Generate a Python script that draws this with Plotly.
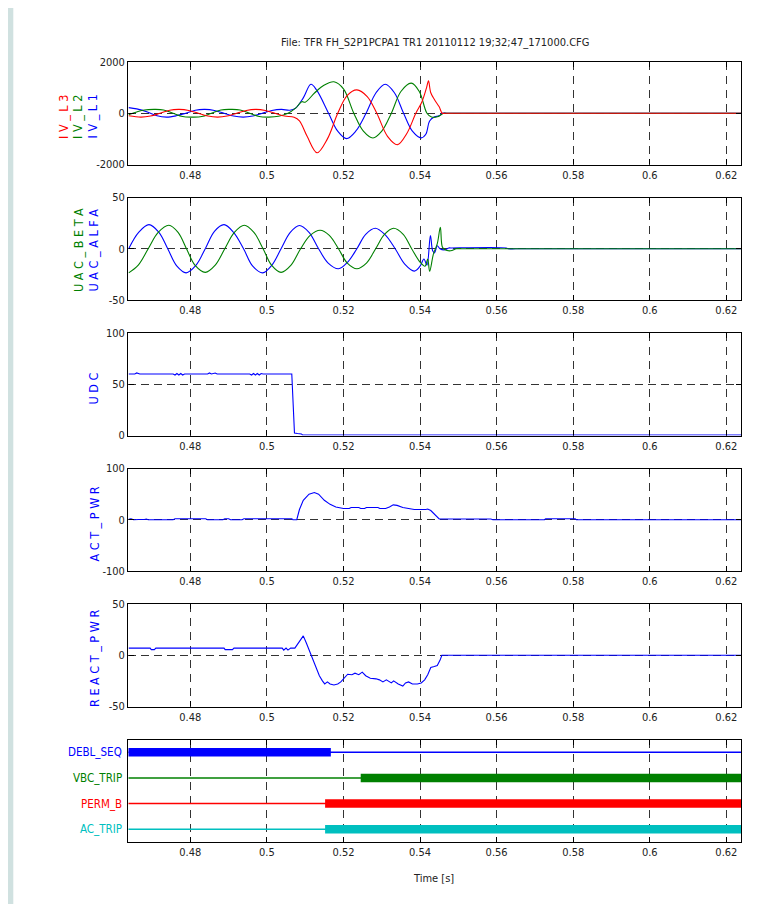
import plotly.graph_objects as go

# ---------------- data ----------------
T_START, T_END = 0.4638, 0.6239
X_TICKS = [0.48, 0.50, 0.52, 0.54, 0.56, 0.58, 0.60, 0.62]
X_TICK_TEXT = ["0.48", "0.5", "0.52", "0.54", "0.56", "0.58", "0.6", "0.62"]

# Panel 1: IV currents
iv_l1_t = [0.4639, 0.4660, 0.4688, 0.4713, 0.4738, 0.4763, 0.4788, 0.4813, 0.4838, 0.4863,
           0.4888, 0.4913, 0.4938, 0.4963, 0.4988, 0.5013, 0.5038, 0.5060, 0.5075, 0.5095,
           0.5115, 0.5130, 0.5161, 0.5185, 0.5208, 0.5232, 0.5259, 0.5285, 0.5309, 0.5333,
           0.5357, 0.5380, 0.5403, 0.5415, 0.5425, 0.5437, 0.5450, 0.5458, 0.5470, 0.5500,
           0.5600, 0.6239]
iv_l1_v = [220, 170, 50, -100, -150, -100, 0, 120, 150, 110,
           0, -110, -150, -110, 0, 110, 150, 120, 200, 600,
           1130, 900, 0, -700, -990, -700, 0, 800, 1130, 800,
           0, -700, -960, -820, -300, -150, -100, 0, 0, 0,
           0, 0]

iv_l2_t = [0.4639, 0.4660, 0.4680, 0.4705, 0.4730, 0.4755, 0.4780, 0.4805, 0.4830, 0.4855,
           0.4880, 0.4905, 0.4930, 0.4955, 0.4980, 0.5005, 0.5030, 0.5055, 0.5075, 0.5091,
           0.5100, 0.5125, 0.5150, 0.5175, 0.5200, 0.5227, 0.5252, 0.5277, 0.5300, 0.5325,
           0.5350, 0.5377, 0.5398, 0.5418, 0.5430, 0.5445, 0.5455, 0.5462, 0.5470, 0.5500,
           0.5600, 0.6239]
iv_l2_v = [-60, 50, 130, 150, 130, 0, -130, -150, -130, 0,
           130, 150, 130, 0, -130, -150, -120, 0, 200, 450,
           430, 800, 1100, 1226, 950, 0, -700, -964, -700, 0,
           850, 1174, 850, 0, -150, -140, -60, 0, 0, 0,
           0, 0]

iv_l3_t = [0.4639, 0.4671, 0.4696, 0.4721, 0.4746, 0.4771, 0.4796, 0.4821, 0.4846, 0.4871,
           0.4896, 0.4921, 0.4946, 0.4971, 0.4996, 0.5021, 0.5046, 0.5071, 0.5085, 0.5105,
           0.5131, 0.5158, 0.5185, 0.5210, 0.5235, 0.5262, 0.5287, 0.5315, 0.5341, 0.5365,
           0.5389, 0.5405, 0.5417, 0.5422, 0.5428, 0.5439, 0.5450, 0.5458, 0.5466, 0.5500,
           0.5600, 0.6239]
iv_l3_v = [-100, -150, -110, 0, 120, 150, 110, 0, -110, -150,
           -110, 0, 110, 150, 110, 0, -110, -160, -300, -900,
           -1540, -1000, 0, 700, 911, 650, 0, -900, -1226, -800,
           0, 450, 1000, 1265, 800, 500, 250, 0, 0, 0,
           0, 0]

# Panel 2: UAC alfa / beta
uac_alfa_t = [0.4639, 0.4665, 0.4692, 0.4718, 0.4741, 0.4765, 0.4789, 0.4815, 0.4839, 0.4863,
              0.4888, 0.4913, 0.4939, 0.4963, 0.4989, 0.5013, 0.5037, 0.5061, 0.5085, 0.5110,
              0.5135, 0.5160, 0.5187, 0.5211, 0.5235, 0.5258, 0.5283, 0.5308, 0.5335, 0.5360,
              0.5385, 0.5400, 0.5410, 0.5418, 0.5427, 0.5433, 0.5438, 0.5445, 0.5452, 0.5465,
              0.5475, 0.5480, 0.5625, 0.5630, 0.5650, 0.5800, 0.6239]
uac_alfa_v = [0, 16, 23.5, 16, 0, -17, -23.5, -16, 0, 17,
              23.5, 16, 0, -17, -23.5, -16, 0, 16, 22.7, 16,
              0, -14, -19.5, -13, 0, 14, 20, 14, 0, -15,
              -21.8, -17, -10, -16, 13, -2, -4, 3, 0, -1,
              0.8, 0.8, 0.8, 0, 0, 0, 0]

uac_beta_t = [0.4639, 0.4664, 0.4690, 0.4716, 0.4744, 0.4768, 0.4790, 0.4812, 0.4839, 0.4865,
              0.4890, 0.4915, 0.4941, 0.4966, 0.4990, 0.5012, 0.5037, 0.5063, 0.5088, 0.5113,
              0.5139, 0.5163, 0.5187, 0.5210, 0.5235, 0.5260, 0.5284, 0.5307, 0.5331, 0.5356,
              0.5378, 0.5400, 0.5413, 0.5420, 0.5425, 0.5435, 0.5445, 0.5453, 0.5458, 0.5465,
              0.5480, 0.5495, 0.5510, 0.5600, 0.6239]
uac_beta_v = [-23.5, -16, 0, 16, 23, 16, 0, -16, -23, -16,
              0, 16, 23, 16, 0, -16, -23, -16, 0, 13,
              18, 13, 0, -14, -19.5, -14, 0, 14, 20, 14,
              0, -13, -17, -10, -22, -5, 5, 21, 2, -1,
              -2, 0, 0, 0, 0]

# Panel 3: UDC
udc_t = [0.4639, 0.4655, 0.4660, 0.4668, 0.4755, 0.4760, 0.4765, 0.4770, 0.4775, 0.4780,
         0.4785, 0.4845, 0.4850, 0.4855, 0.4865, 0.4870, 0.4955, 0.4960, 0.4965, 0.4970,
         0.4975, 0.4980, 0.4985, 0.4990, 0.5065, 0.5068, 0.5072, 0.5080, 0.5090, 0.5093, 0.6239]
udc_v = [60, 60, 61, 60, 60, 59, 60.5, 59, 60.5, 59,
         60, 60, 61, 60, 61, 60, 60, 59, 60.5, 59,
         60.5, 59, 60.5, 60, 60, 30, 2.5, 2, 1.5, 0.5, 0.5]

# Panel 4: ACT_PWR
act_t = [0.4639, 0.4645, 0.4652, 0.4660, 0.4665, 0.4680, 0.4685, 0.4690, 0.4755, 0.4760,
         0.4840, 0.4845, 0.4885, 0.4890, 0.4900, 0.4905, 0.4935, 0.4940, 0.5065, 0.5068,
         0.5078, 0.5085, 0.5095, 0.5110, 0.5124, 0.5135, 0.5150, 0.5165, 0.5180, 0.5200,
         0.5215, 0.5220, 0.5240, 0.5245, 0.5255, 0.5260, 0.5290, 0.5295, 0.5310, 0.5320,
         0.5330, 0.5340, 0.5355, 0.5370, 0.5385, 0.5415, 0.5420, 0.5428, 0.5440, 0.5450,
         0.5585, 0.5590, 0.5725, 0.5728, 0.5805, 0.5808, 0.6239]
act_v = [1, 2, 0, 1, 0.5, 0.5, 1.5, 0, 0, 2,
         2, 0, 0, 2, 2, 0, 0, 2, 2, 0,
         0, 20, 38, 50, 53, 50, 38, 30, 25, 22,
         22, 24, 24, 22, 22, 24, 24, 22, 22, 25,
         29, 28, 24, 22, 20, 20, 21, 18, 8, 1.5,
         1.5, 0, 0, 2, 2, 0, 0]

# Panel 5: REACT_PWR
react_t = [0.4639, 0.4695, 0.4698, 0.4706, 0.4710, 0.4888, 0.4891, 0.4910, 0.4914, 0.5040,
           0.5044, 0.5050, 0.5055, 0.5062, 0.5073, 0.5085, 0.5095, 0.5103, 0.5115, 0.5125,
           0.5137, 0.5145, 0.5151, 0.5158, 0.5165, 0.5175, 0.5185, 0.5193, 0.5203, 0.5211,
           0.5222, 0.5230, 0.5240, 0.5249, 0.5258, 0.5270, 0.5285, 0.5294, 0.5303, 0.5312,
           0.5325, 0.5331, 0.5343, 0.5355, 0.5362, 0.5370, 0.5380, 0.5393, 0.5403, 0.5412,
           0.5420, 0.5428, 0.5437, 0.5445, 0.5452, 0.5457, 0.6239]
react_v = [7, 7, 5.5, 5.5, 7, 7, 5.5, 5.5, 7, 7,
           5, 7, 5, 7, 7, 13, 18.9, 12, 0, -10,
           -20, -25, -28, -26, -28, -29, -28, -26, -22, -18.5,
           -19, -17.5, -19, -16.5, -20, -22.5, -23, -24, -26, -24,
           -27, -25, -28, -30, -27, -26, -28, -28, -27, -24,
           -19, -12, -11, -10, -5, 0, 0]

# Panel 6: digital signals
DIG_NAMES = ["DEBL_SEQ", "VBC_TRIP", "PERM_B", "AC_TRIP"]
DIG_ROWS = [1, 2, 3, 4]
DIG_ON_START = [0.4638, 0.5245, 0.5152, 0.5152]
DIG_ON_END = [0.5167, 0.6239, 0.6239, 0.6239]

# ---------------- style ----------------
BLUE, GREEN, RED, CYAN = "#0000ff", "#008000", "#ff0000", "#00bfbf"
DIG_COLORS = [BLUE, GREEN, RED, CYAN]
FONT = "DejaVu Sans Condensed, Liberation Sans Narrow, sans-serif"
FS = 11
OFF = 8                      # page offset of the plot div
W, H = 770 - OFF, 904 - OFF  # figure size so it fits the window
X_L, X_R = 128.3, 741.3      # target window pixel positions
PANEL_TOP0, PANEL_STEP, PANEL_H = 62, 135.5, 102.5


def px(x):
    return (x - OFF) / W


def py(y):
    return 1 - (y - OFF) / H


Y_RANGES = [(-2000, 2000), (-50, 50), (0, 100), (-100, 100), (-50, 50), (4.5, 0.5)]
Y_TICKS = [[-2000, 0, 2000], [-50, 0, 50], [0, 50, 100], [-100, 0, 100], [-50, 0, 50], []]

fig = go.Figure()


def add(t, v, color, k, shape="linear", width=1.1):
    fig.add_trace(go.Scatter(x=t, y=v, mode="lines",
                             line=dict(color=color, width=width, shape=shape),
                             xaxis="x" if k == 0 else f"x{k+1}",
                             yaxis="y" if k == 0 else f"y{k+1}",
                             showlegend=False, hoverinfo="skip"))


add(iv_l1_t, iv_l1_v, BLUE, 0, "spline")
add(iv_l2_t, iv_l2_v, GREEN, 0, "spline")
add(iv_l3_t, iv_l3_v, RED, 0, "spline")
add(uac_alfa_t, uac_alfa_v, BLUE, 1, "spline")
add(uac_beta_t, uac_beta_v, GREEN, 1, "spline")
add(udc_t, udc_v, BLUE, 2)
add(act_t, act_v, BLUE, 3)
add(react_t, react_v, BLUE, 4)
for name, row, s, e, c in zip(DIG_NAMES, DIG_ROWS, DIG_ON_START, DIG_ON_END, DIG_COLORS):
    add([T_START, T_END], [row, row], c, 5, width=1.6)
    add([s, e], [row, row], c, 5, width=8.5)

layout = dict(width=W, height=H, autosize=False,
              margin=dict(l=0, r=0, t=0, b=0, pad=0, autoexpand=False),
              paper_bgcolor="#d0e1e0", plot_bgcolor="white",
              font=dict(family=FONT, size=FS, color="#222"),
              showlegend=False)

for k in range(6):
    top = PANEL_TOP0 + PANEL_STEP * k
    bot = top + PANEL_H
    xa = "xaxis" if k == 0 else f"xaxis{k+1}"
    ya = "yaxis" if k == 0 else f"yaxis{k+1}"
    yname = "y" if k == 0 else f"y{k+1}"
    xname = "x" if k == 0 else f"x{k+1}"
    layout[xa] = dict(domain=[px(X_L), px(X_R)], range=[T_START, T_END], anchor=yname,
                      tickvals=X_TICKS, ticktext=X_TICK_TEXT, automargin=False,
                      showgrid=True, gridcolor="#333", gridwidth=1, griddash="8px,6px",
                      showline=True, linecolor="black", linewidth=1.4, mirror="ticks",
                      ticks="inside", ticklen=5, tickcolor="black", zeroline=False,
                      tickfont=dict(family=FONT, size=FS, color="#222"))
    yr = Y_RANGES[k]
    layout[ya] = dict(domain=[py(bot), py(top)], range=list(yr), anchor=xname,
                      tickvals=Y_TICKS[k], ticktext=[str(v) for v in Y_TICKS[k]],
                      automargin=False,
                      showgrid=(k < 5), gridcolor="#333", gridwidth=1, griddash="8px,5px",
                      showline=True, linecolor="black", linewidth=1.4, mirror="ticks",
                      ticks="inside" if k < 5 else "", ticklen=5, tickcolor="black",
                      zeroline=False, showticklabels=(k < 5),
                      tickfont=dict(family=FONT, size=FS, color="#222"))

fig.update_layout(**layout)

# background white sheet (left teal strip of the slide)
fig.add_shape(type="rect", xref="paper", yref="paper", x0=px(13.3), x1=1, y0=0, y1=1,
              fillcolor="white", line_width=0, layer="below")

ann = []
ann.append(dict(text="File: TFR FH_S2P1PCPA1 TR1 20110112 19;32;47_171000.CFG",
                x=px((X_L + X_R) / 2), y=py(42.7), xref="paper", yref="paper",
                showarrow=False, xanchor="center", yanchor="middle",
                font=dict(family=FONT, size=FS, color="#222")))
ann.append(dict(text="Time [s]", x=px(433), y=py(878), xref="paper", yref="paper",
                showarrow=False, xanchor="center", yanchor="middle",
                font=dict(family=FONT, size=FS, color="#222")))

ylabels = [("I V _ L 3", RED, 64, 117), ("I V _ L 2", GREEN, 78, 117), ("I V _ L 1", BLUE, 92.5, 117),
           ("U A C _ B E T A", GREEN, 78, 250), ("U A C _ A L F A", BLUE, 92.5, 250),
           ("U D C", BLUE, 92.5, 389), ("A C T _ P W R", BLUE, 94, 524.5),
           ("R E A C T _ P W R", BLUE, 94, 659)]
for txt, c, xp, yp in ylabels:
    ann.append(dict(text=txt, x=px(xp), y=py(yp), xref="paper", yref="paper",
                    showarrow=False, xanchor="center", yanchor="middle", textangle=-90,
                    font=dict(family=FONT, size=12.5, color=c)))

for name, row, c in zip(DIG_NAMES, DIG_ROWS, DIG_COLORS):
    ann.append(dict(text=name, x=px(X_L - 4), y=row, xref="paper", yref="y6",
                    showarrow=False, xanchor="right", yanchor="middle",
                    font=dict(family=FONT, size=11.5, color=c)))
fig.update_layout(annotations=ann)

fig.write_html("out.html", include_plotlyjs=True, config={"displayModeBar": False})
